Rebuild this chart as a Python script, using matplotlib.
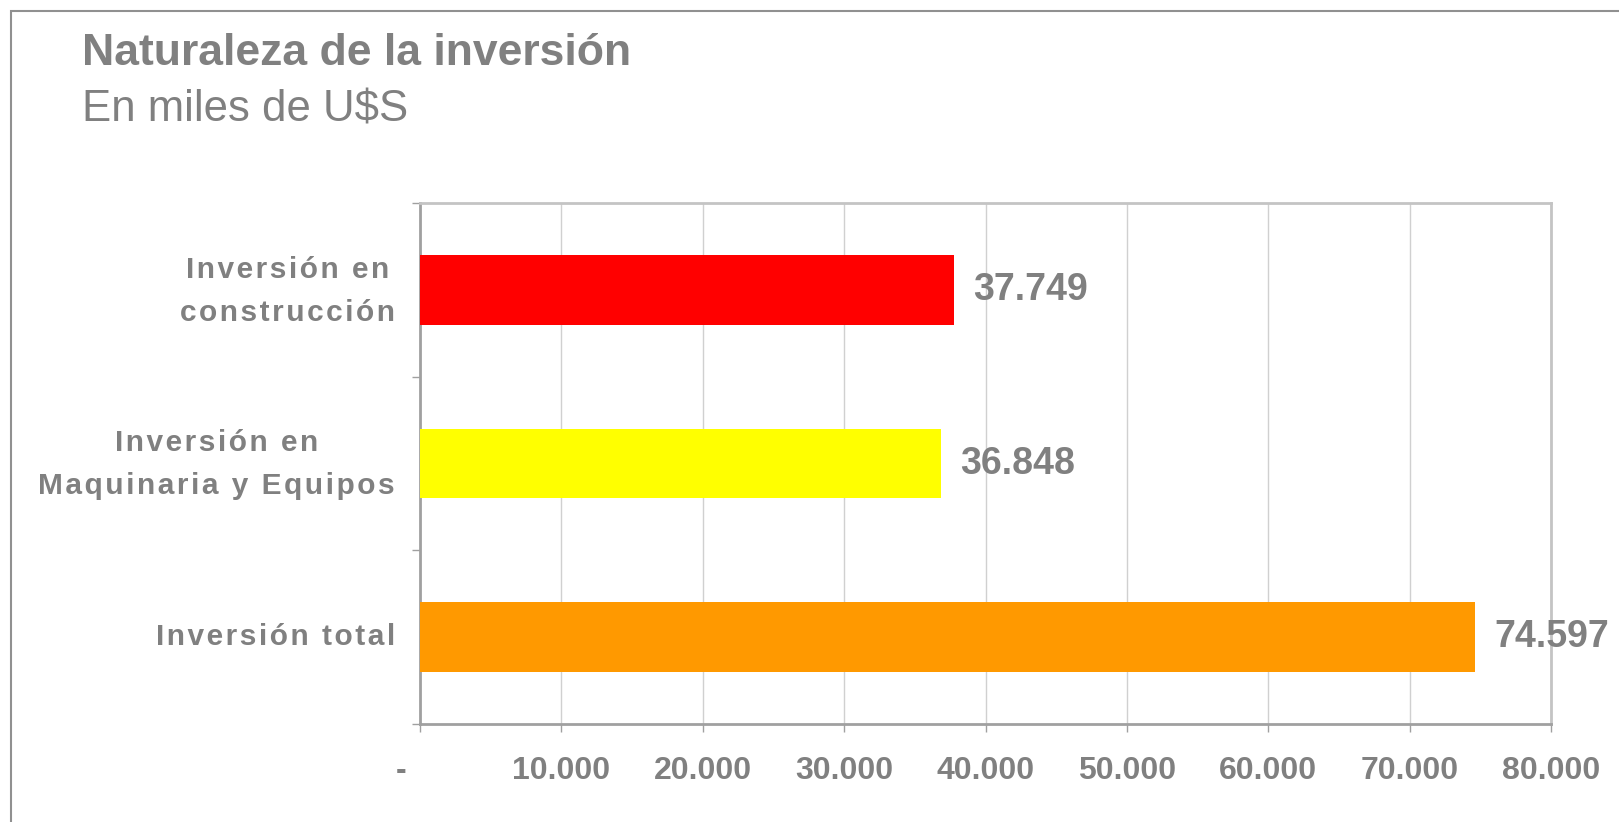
import matplotlib
matplotlib.use('Agg')
import matplotlib.pyplot as plt
import matplotlib.transforms as mtransforms
from matplotlib.patches import Rectangle

categories = ['Inversión en\nconstrucción', 'Inversión en\nMaquinaria y Equipos', 'Inversión total']
values = [37749, 36848, 74597]
bar_colors = ['#FF0000', '#FFFF00', '#FF9900']
value_labels = ['37.749', '36.848', '74.597']
x_ticks = [0, 10000, 20000, 30000, 40000, 50000, 60000, 70000, 80000]
x_tick_labels = ['-', '10.000', '20.000', '30.000', '40.000', '50.000', '60.000', '70.000', '80.000']

gray = '#808080'
plt.rcParams['font.family'] = ['Liberation Sans', 'DejaVu Sans']


def spaced(s):
    # the category labels in the original have extra letter spacing
    return '\n'.join('\u200a'.join(line) for line in s.split('\n'))


fig = plt.figure(figsize=(16.19, 8.22), dpi=100)

# outer frame (runs off the right and bottom edges)
fig.patches.append(Rectangle((11 / 1619, -0.05), 1.1, 1 - 11 / 822 + 0.05,
                             transform=fig.transFigure, fill=False,
                             edgecolor='#909090', linewidth=1.5))

fig.text(82 / 1619, 1 - 65 / 822, 'Naturaleza de la inversión', fontsize=32,
         fontweight='bold', color=gray, va='baseline')
fig.text(82 / 1619, 1 - 121 / 822, 'En miles de U$S', fontsize=31.5,
         color=gray, va='baseline')

ax = fig.add_axes([420 / 1619, 1 - 724 / 822, 1131 / 1619, 521 / 822])
ypos = list(range(len(categories)))
ax.barh(ypos, values, height=0.4, color=bar_colors, zorder=3)

for y, v, lab in zip(ypos, values, value_labels):
    ax.annotate(lab, (v, y), xytext=(14, 0), textcoords='offset points',
                va='center', ha='left', fontsize=27, fontweight='bold',
                color=gray, zorder=4)

# category labels, centred lines, right edge ~25px left of the axis
for y, cat in zip(ypos, categories):
    up = -1 if '\n' in cat else 0
    ax.annotate(spaced(cat), (0, y), xycoords=ax.get_yaxis_transform(),
                xytext=(-18, up), textcoords='offset points',
                ha='right', va='center', multialignment='center',
                linespacing=1.68, fontsize=21.5, fontweight='bold', color=gray)

ax.set_xlim(0, 80000)
ax.set_ylim(2.5, -0.5)
ax.set_xticks(x_ticks)
ax.set_xticklabels(x_tick_labels, fontsize=23, fontweight='bold', color=gray)
ax.set_yticks([])
ax.set_yticks([-0.5, 0.5, 1.5, 2.5], minor=True)

ax.tick_params(axis='x', direction='out', length=6, width=1, color='#a0a0a0', pad=17)
ax.tick_params(axis='y', which='minor', direction='out', length=6, width=1, color='#a0a0a0')

# shift the "-" label a bit to the left, like the accounting format
shift = mtransforms.ScaledTranslation(-19 / 100, 0, fig.dpi_scale_trans)
first = ax.get_xticklabels()[0]
first.set_transform(first.get_transform() + shift)

ax.grid(axis='x', color='#d0d0d0', linewidth=1, zorder=0)
ax.set_axisbelow(True)
for side in ['left', 'bottom']:
    ax.spines[side].set_color('#a0a0a0')
    ax.spines[side].set_linewidth(2)
for side in ['top', 'right']:
    ax.spines[side].set_color('#c4c4c4')
    ax.spines[side].set_linewidth(2)

fig.savefig('out.png', dpi=100)
